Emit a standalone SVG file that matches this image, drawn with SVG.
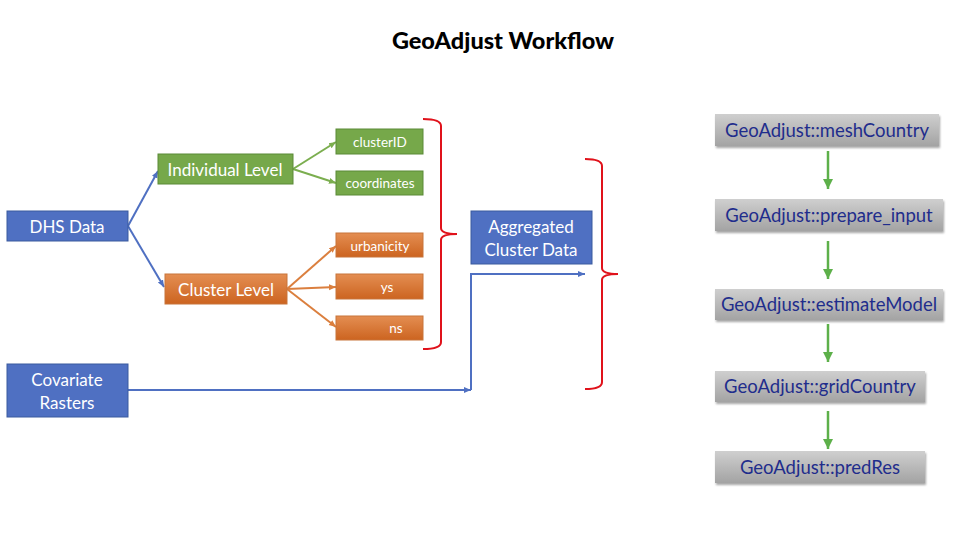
<svg xmlns="http://www.w3.org/2000/svg" width="960" height="540" viewBox="0 0 960 540">
<defs>
<style>
.t{font-family:Lato,"Open Sans","Liberation Sans",sans-serif;text-anchor:middle;dominant-baseline:central}
.w{fill:#fff}
.blue{fill:#4F70C2;stroke:#3A5A9E;stroke-width:1}
.green{fill:#76A84A;stroke:#5A8A36;stroke-width:1}
.orange{fill:url(#og);stroke:#C8743A;stroke-width:1}
.gray{fill:url(#gg);filter:url(#sh)}
.gt{fill:#1F2D8C;font-size:18.5px}
.brace{fill:none;stroke:#E0121B;stroke-width:2}
</style>
<linearGradient id="og" x1="0" y1="0" x2="0" y2="1">
<stop offset="0" stop-color="#E48E52"/>
<stop offset="1" stop-color="#CC6420"/>
</linearGradient>
<linearGradient id="gg" x1="0" y1="0" x2="0" y2="1">
<stop offset="0" stop-color="#CFCFCF"/>
<stop offset="1" stop-color="#A3A3A3"/>
</linearGradient>
<filter id="sh" x="-10%" y="-20%" width="120%" height="150%">
<feDropShadow dx="1" dy="2" stdDeviation="1.2" flood-color="#000" flood-opacity="0.35"/>
</filter>
<marker id="ab" markerWidth="8" markerHeight="8" refX="7" refY="4" orient="auto" markerUnits="userSpaceOnUse"><path d="M0,1 L7,4 L0,7 Z" fill="#4F70C2"/></marker>
<marker id="ag" markerWidth="8" markerHeight="8" refX="7" refY="4" orient="auto" markerUnits="userSpaceOnUse"><path d="M0,1 L7,4 L0,7 Z" fill="#7BAE4F"/></marker>
<marker id="ao" markerWidth="8" markerHeight="8" refX="7" refY="4" orient="auto" markerUnits="userSpaceOnUse"><path d="M0,1 L7,4 L0,7 Z" fill="#DB7F3E"/></marker>
<marker id="agr" markerWidth="12" markerHeight="12" refX="10" refY="6" orient="auto" markerUnits="userSpaceOnUse"><path d="M0,1 L10,6 L0,11 Z" fill="#5DB04A"/></marker>
</defs>
<rect width="960" height="540" fill="#fff"/>
<text class="t" x="503" y="40" font-size="23.5" font-weight="900" fill="#000">GeoAdjust Workflow</text>

<g id="connectors" fill="none">
<line x1="128" y1="226" x2="158" y2="171" stroke="#4F70C2" stroke-width="2" marker-end="url(#ab)"/>
<line x1="128" y1="226" x2="164" y2="287" stroke="#4F70C2" stroke-width="2" marker-end="url(#ab)"/>
<line x1="293" y1="169" x2="336" y2="142" stroke="#7BAE4F" stroke-width="2" marker-end="url(#ag)"/>
<line x1="293" y1="169" x2="336" y2="183" stroke="#7BAE4F" stroke-width="2" marker-end="url(#ag)"/>
<line x1="287" y1="289" x2="336" y2="246" stroke="#DB7F3E" stroke-width="2" marker-end="url(#ao)"/>
<line x1="287" y1="289" x2="336" y2="287" stroke="#DB7F3E" stroke-width="2" marker-end="url(#ao)"/>
<line x1="287" y1="289" x2="336" y2="327" stroke="#DB7F3E" stroke-width="2" marker-end="url(#ao)"/>
<line x1="128" y1="390" x2="471" y2="390" stroke="#4F70C2" stroke-width="2" marker-end="url(#ab)"/>
<polyline points="471,390 471,274 585,274" stroke="#4F70C2" stroke-width="2" marker-end="url(#ab)"/>
<line x1="828" y1="151" x2="828" y2="189" stroke="#5DB04A" stroke-width="2.5" marker-end="url(#agr)"/>
<line x1="828" y1="241" x2="828" y2="279" stroke="#5DB04A" stroke-width="2.5" marker-end="url(#agr)"/>
<line x1="828" y1="324" x2="828" y2="362" stroke="#5DB04A" stroke-width="2.5" marker-end="url(#agr)"/>
<line x1="828" y1="411" x2="828" y2="449" stroke="#5DB04A" stroke-width="2.5" marker-end="url(#agr)"/>
<path class="brace" d="M423,119 Q441,119 441,126 L441,228 Q441,234 457,234 Q441,234 441,240 L441,342 Q441,349 423,349"/>
<path class="brace" d="M585,159 Q602,159 602,166 L602,268 Q602,274 618,274 Q602,274 602,280 L602,382 Q602,389 585,389"/>
</g>

<g id="dhs"><rect class="blue" x="7" y="211" width="121" height="30"/><text class="t w" x="67" y="226" font-size="17">DHS Data</text></g>
<g id="covariate"><rect class="blue" x="7" y="364" width="121" height="53"/><text class="t w" x="67" y="379" font-size="17">Covariate</text><text class="t w" x="67" y="402" font-size="17">Rasters</text></g>
<g id="individual"><rect class="green" x="158" y="154" width="135" height="30"/><text class="t w" x="225" y="169" font-size="17">Individual Level</text></g>
<g id="cluster"><rect class="orange" x="165" y="274" width="122" height="30"/><text class="t w" x="226" y="289" font-size="17">Cluster Level</text></g>
<g id="clusterID"><rect class="green" x="336" y="129" width="87" height="25"/><text class="t w" x="380" y="142" font-size="13.5">clusterID</text></g>
<g id="coordinates"><rect class="green" x="336" y="171" width="87" height="24"/><text class="t w" x="380" y="183" font-size="13.5">coordinates</text></g>
<g id="urbanicity"><rect class="orange" x="336" y="233" width="87" height="24"/><text class="t w" x="380" y="246" font-size="13.5">urbanicity</text></g>
<g id="ys"><rect class="orange" x="336" y="274" width="87" height="25"/><text class="t w" x="387" y="287" font-size="13.5">ys</text></g>
<g id="ns"><rect class="orange" x="336" y="316" width="87" height="24"/><text class="t w" x="396" y="328" font-size="13.5">ns</text></g>
<g id="aggregated"><rect class="blue" x="471" y="211" width="121" height="53"/><text class="t w" x="531" y="226" font-size="17">Aggregated</text><text class="t w" x="531" y="249" font-size="17">Cluster Data</text></g>

<g id="meshCountry"><rect class="gray" x="715" y="114" width="224" height="32"/><text class="t gt" x="827" y="130">GeoAdjust::meshCountry</text></g>
<g id="prepare_input"><rect class="gray" x="715" y="199" width="228" height="32"/><text class="t gt" x="829" y="215">GeoAdjust::prepare_input</text></g>
<g id="estimateModel"><rect class="gray" x="715" y="289" width="228" height="31"/><text class="t gt" x="829" y="304">GeoAdjust::estimateModel</text></g>
<g id="gridCountry"><rect class="gray" x="715" y="371" width="210" height="31"/><text class="t gt" x="820" y="386">GeoAdjust::gridCountry</text></g>
<g id="predRes"><rect class="gray" x="715" y="451" width="210" height="32"/><text class="t gt" x="820" y="467">GeoAdjust::predRes</text></g>
</svg>
